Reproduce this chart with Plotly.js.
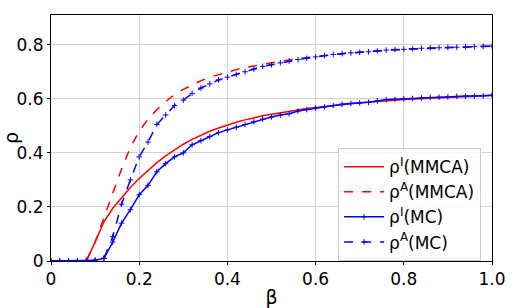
<!DOCTYPE html>
<html><head><meta charset="utf-8">
<script src="https://cdn.plot.ly/plotly-3.0.1.min.js"></script>
<style>body{margin:0;padding:0;background:#fff}#chart{width:513px;height:308px}</style>
</head><body><div id="chart"></div>
<script>
const beta = [0,0.02,0.04,0.06,0.08,0.10,0.12,0.14,0.16,0.18,0.20,0.22,0.24,0.26,0.28,0.30,0.32,0.34,0.36,0.38,0.40,0.42,0.44,0.46,0.48,0.50,0.52,0.54,0.56,0.58,0.60,0.62,0.64,0.66,0.68,0.70,0.72,0.74,0.76,0.78,0.80,0.82,0.84,0.86,0.88,0.90,0.92,0.94,0.96,0.98,1.00];
const rhoI_MMCA = [0,0,0,0,0,0.07,0.145,0.195,0.235,0.272,0.305,0.336,0.364,0.389,0.412,0.432,0.45,0.466,0.48,0.492,0.503,0.513,0.522,0.53,0.537,0.543,0.549,0.554,0.559,0.564,0.568,0.572,0.576,0.579,0.582,0.585,0.588,0.59,0.593,0.595,0.597,0.599,0.601,0.602,0.604,0.605,0.607,0.608,0.61,0.611,0.612];
const rhoA_MMCA = [0,0,0,0,0,0.07,0.16,0.25,0.34,0.42,0.48,0.525,0.56,0.59,0.615,0.635,0.652,0.667,0.68,0.69,0.70,0.708,0.716,0.722,0.728,0.734,0.739,0.744,0.749,0.753,0.757,0.761,0.764,0.767,0.77,0.773,0.775,0.777,0.779,0.781,0.783,0.785,0.786,0.788,0.789,0.79,0.791,0.792,0.793,0.794,0.795];
const rhoI_MC = [0,0,0,0,0.002,0.003,0.01,0.07,0.14,0.19,0.245,0.28,0.33,0.36,0.385,0.40,0.43,0.445,0.46,0.475,0.485,0.495,0.505,0.515,0.525,0.533,0.54,0.545,0.555,0.56,0.566,0.57,0.575,0.58,0.583,0.585,0.587,0.592,0.597,0.598,0.60,0.601,0.603,0.605,0.606,0.607,0.609,0.61,0.61,0.611,0.613];
const rhoA_MC = [0,0,0,0,0.002,0.003,0.01,0.09,0.21,0.30,0.385,0.44,0.505,0.54,0.575,0.595,0.62,0.64,0.655,0.67,0.68,0.69,0.70,0.71,0.72,0.726,0.733,0.74,0.745,0.75,0.755,0.76,0.764,0.767,0.77,0.772,0.774,0.777,0.78,0.782,0.783,0.785,0.787,0.788,0.789,0.79,0.791,0.792,0.793,0.794,0.795];
const xTicks = [0,0.2,0.4,0.6,0.8,1.0];
const xTickText = ["0","0.2","0.4","0.6","0.8","1.0"];
const yTicks = [0,0.2,0.4,0.6,0.8];
const yTickText = ["0","0.2","0.4","0.6","0.8"];
const names = ["ρ<sup>I</sup>(MMCA)","ρ<sup>A</sup>(MMCA)","ρ<sup>I</sup>(MC)","ρ<sup>A</sup>(MC)"];

const mk = {symbol:"cross-thin",size:4,line:{color:"#0000ff",width:1}};
const traces = [
 {x:beta,y:rhoI_MMCA,name:names[0],mode:"lines",line:{color:"#ff0000",width:1.5}},
 {x:beta,y:rhoA_MMCA,name:names[1],mode:"lines",line:{color:"#ff0000",width:1.5,dash:"dash"}},
 {x:beta,y:rhoI_MC,name:names[2],mode:"lines+markers",line:{color:"#0000ff",width:1.5},marker:mk},
 {x:beta,y:rhoA_MC,name:names[3],mode:"lines+markers",line:{color:"#0000ff",width:1.5,dash:"dash"},marker:mk}
];
const layout = {
 width:513,height:308,margin:{l:51,r:21,t:15,b:47},
 paper_bgcolor:"#fff",plot_bgcolor:"#fff",
 font:{family:"DejaVu Sans",color:"#000",size:16},
 xaxis:{range:[0,1],tickmode:"array",tickvals:xTicks,ticktext:xTickText,
   showline:true,mirror:true,linecolor:"#000",linewidth:1,ticks:"outside",ticklen:3,tickcolor:"#000",
   showgrid:true,gridcolor:"#d0d0d0",gridwidth:1,zeroline:false,
   tickfont:{family:"DejaVu Sans",size:17,color:"#000"},
   title:{text:"β",font:{family:"DejaVu Sans",size:19,color:"#000"},standoff:2}},
 yaxis:{range:[0,0.91],tickmode:"array",tickvals:yTicks,ticktext:yTickText,
   showline:true,mirror:true,linecolor:"#000",linewidth:1,ticks:"outside",ticklen:3,tickcolor:"#000",
   showgrid:true,gridcolor:"#d0d0d0",gridwidth:1,zeroline:false,
   tickfont:{family:"DejaVu Sans",size:17,color:"#000"},
   title:{text:"ρ",font:{family:"DejaVu Sans",size:19,color:"#000"},standoff:4}},
 legend:{x:0.651,y:0.459,xanchor:"left",yanchor:"top",bgcolor:"rgba(255,255,255,0.85)",bordercolor:"#ccc",borderwidth:1,font:{family:"DejaVu Sans",size:17,color:"#000"},itemwidth:40},
 showlegend:true
};
Plotly.newPlot("chart",traces,layout,{displayModeBar:false,staticPlot:true});
</script></body></html>
